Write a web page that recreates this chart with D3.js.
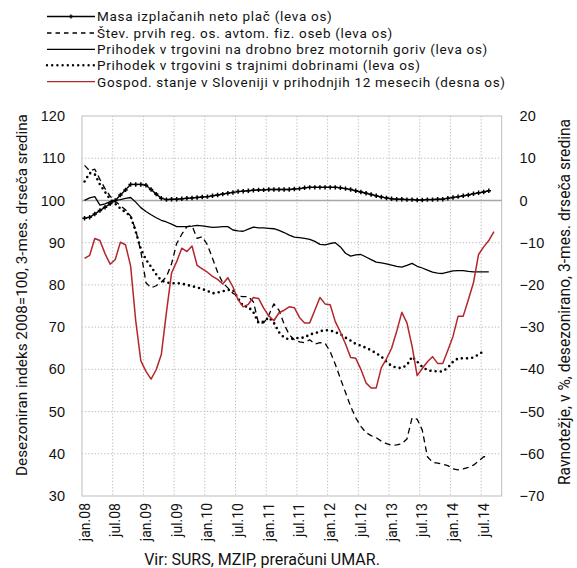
<!DOCTYPE html>
<html>
<head>
<meta charset="utf-8">
<script src="https://cdn.jsdelivr.net/npm/d3@7"></script>
<style>
  body{margin:0;background:#fff;}
  svg{display:block;font-family:Roboto, "Open Sans", sans-serif;}
</style>
</head>
<body>
<div id="chart"></div>
<script>
// categories: jan.08 .. oct.14
const years = ["08","09","10","11","12","13","14"];
const monthNames = ["jan","feb","mar","apr","maj","jun","jul","avg","sep","okt","nov","dec"];
const tickLabels = ["jan.08","jul.08","jan.09","jul.09","jan.10","jul.10","jan.11","jul.11","jan.12","jul.12","jan.13","jul.13","jan.14","jul.14"];
const leftTicks = [30,40,50,60,70,80,90,100,110,120];
const rightTicks = [-70,-60,-50,-40,-30,-20,-10,0,10,20];

const seriesNames = [
  "Masa izplačanih neto plač (leva os)",
  "Štev. prvih reg. os. avtom. fiz. oseb (leva os)",
  "Prihodek v trgovini na drobno brez motornih goriv (leva os)",
  "Prihodek v trgovini s trajnimi dobrinami (leva os)",
  "Gospod. stanje v Sloveniji v prihodnjih 12 mesecih (desna os)"
];

const masa = [95.8,96.0,96.8,97.6,98.4,99.2,100.0,101.3,102.5,103.8,103.8,103.8,103.6,102.6,101.5,100.5,100.2,100.3,100.3,100.4,100.5,100.6,100.7,100.8,100.9,101.1,101.3,101.5,101.7,101.9,102.1,102.2,102.3,102.4,102.5,102.5,102.6,102.6,102.6,102.6,102.6,102.7,102.8,103.0,103.1,103.1,103.1,103.1,103.1,103.1,103.0,102.8,102.6,102.3,102.0,101.7,101.4,101.1,100.8,100.6,100.4,100.3,100.3,100.2,100.2,100.1,100.1,100.2,100.2,100.3,100.3,100.5,100.7,100.9,101.1,101.3,101.6,101.8,102.0,102.3];
const registracije = [108.3,107.0,107.4,105.0,102.8,101.0,99.8,98.8,97.8,96.3,93.0,87.9,80.5,79.3,79.8,80.7,81.9,85.0,89.8,92.0,93.8,94.0,91.0,91.4,89.5,86.3,83.0,80.5,79.3,78.0,77.4,77.2,77.2,76.0,70.9,71.0,72.8,75.5,74.0,70.7,68.2,67.0,66.5,66.3,67.0,66.0,66.3,66.2,64.2,61.2,57.8,54.5,51.2,48.5,46.5,45.0,44.3,43.8,43.0,42.4,42.0,42.1,42.4,43.5,48.5,48.2,45.6,39.3,38.0,37.8,37.5,37.2,36.4,36.2,36.4,36.8,37.3,38.3,39.3,39.3];
const trgovina = [100.0,100.6,100.9,98.9,99.2,99.7,100.0,100.2,100.5,100.7,99.6,98.3,97.4,96.6,95.9,95.3,94.9,94.4,93.8,93.8,93.8,93.9,94.1,94.0,93.8,93.6,93.7,93.8,93.8,93.0,92.8,92.7,93.2,93.7,93.5,93.5,93.4,93.3,92.9,92.4,91.8,91.3,91.2,91.0,90.8,90.3,89.6,89.5,89.8,90.0,89.0,87.5,86.8,87.1,87.2,86.6,86.0,85.4,85.2,85.0,84.7,84.4,84.2,84.6,85.1,84.4,84.0,83.5,83.0,82.8,82.7,83.0,83.3,83.4,83.4,83.2,83.1,83.1,83.1,83.1];
const trajne = [104.5,106.5,106.2,103.8,102.0,100.3,99.2,98.1,97.2,96.3,92.6,88.5,86.0,84.3,82.5,81.0,80.6,80.4,80.4,80.3,80.0,79.7,79.4,79.0,78.6,78.0,78.2,78.5,78.8,78.8,76.8,75.0,74.8,73.5,71.0,71.3,72.3,71.0,68.8,67.5,67.1,67.3,67.5,67.5,68.3,68.5,69.0,69.3,69.2,68.8,68.3,67.5,66.8,66.0,65.6,65.1,64.5,63.8,63.0,61.8,60.8,60.4,60.3,61.0,63.0,61.8,60.6,59.8,59.6,59.5,59.5,60.4,61.8,62.6,62.6,62.6,62.8,63.5,64.3];
const gospod = [-13.7,-13.0,-9.0,-9.5,-12.6,-15.1,-14.0,-9.9,-10.5,-15.5,-28.5,-38.0,-40.5,-42.3,-40.1,-36.5,-26.5,-17.2,-14.5,-11.3,-12.1,-10.8,-15.4,-16.2,-17.0,-18.0,-18.7,-19.8,-18.3,-20.5,-23.5,-25.2,-24.6,-23.0,-23.2,-25.5,-27.3,-28.5,-26.6,-26.0,-25.2,-25.4,-27.7,-29.0,-29.0,-26.0,-23.0,-24.5,-24.7,-28.7,-31.2,-34.0,-37.2,-37.4,-40.0,-43.2,-44.4,-44.4,-39.6,-37.5,-35.0,-31.0,-26.5,-29.0,-34.5,-41.5,-39.8,-38.2,-37.0,-38.6,-38.6,-35.5,-32.2,-27.4,-27.4,-23.5,-19.5,-12.8,-11.0,-9.5,-7.4];

const months = years.flatMap(y => monthNames.map(m => `${m}.${y}`)).slice(0, 82);

const width = 577, height = 568;
const plot = {left:82, right:501.6, top:116, bottom:496};
const red = "#b3262b";
const gridColor = "#b8b8b8";

const svg = d3.select("#chart").append("svg").attr("width", width).attr("height", height);

const x = d3.scaleBand().domain(months).range([plot.left, plot.right]);
const yL = d3.scaleLinear().domain([30,120]).range([plot.bottom, plot.top]);
const yR = d3.scaleLinear().domain([-70,20]).range([plot.bottom, plot.top]);
const cx = i => x(months[i]) + x.bandwidth()/2;

// grid
const grid = svg.append("g");
grid.selectAll("line.h").data(leftTicks.filter(t => t>30 && t<120 && t!==100)).enter().append("line")
  .attr("x1", plot.left).attr("x2", plot.right).attr("y1", d=>yL(d)).attr("y2", d=>yL(d))
  .attr("stroke", gridColor).attr("stroke-dasharray", "1.2,2");
grid.selectAll("line.v").data(tickLabels.slice(1)).enter().append("line")
  .attr("x1", d=>x(d)).attr("x2", d=>x(d)).attr("y1", plot.top).attr("y2", plot.bottom)
  .attr("stroke", gridColor).attr("stroke-dasharray", "1.2,2");
svg.append("rect").attr("x", plot.left).attr("y", plot.top)
  .attr("width", plot.right-plot.left).attr("height", plot.bottom-plot.top)
  .attr("fill", "none").attr("stroke", "#c8c8c8").attr("stroke-width", 1.2);
svg.append("line").attr("x1", plot.left).attr("x2", plot.right).attr("y1", yR(0)).attr("y2", yR(0))
  .attr("stroke", "#a6a6a6").attr("stroke-width", 1.6);

// axes labels
const textAttr = (sel, size) => sel.attr("font-size", size).attr("fill", "#111");
svg.append("g").attr("transform", `translate(${plot.left-14},0)`)
  .call(d3.axisLeft(yL).tickValues(leftTicks).tickSize(0))
  .call(g => g.select(".domain").remove())
  .call(g => g.selectAll("text").call(textAttr, "14.5px").attr("font-family", null));
svg.append("g").attr("transform", `translate(${plot.right+15},0)`)
  .call(d3.axisRight(yR).tickValues(rightTicks).tickSize(0))
  .call(g => g.select(".domain").remove())
  .call(g => g.selectAll("text").call(textAttr, "14.5px").attr("font-family", null));

svg.append("g").selectAll("text").data(tickLabels).enter().append("text")
  .attr("transform", d => `translate(${x(d)+x.bandwidth()/2+5},${plot.bottom+7}) rotate(-90)`)
  .attr("text-anchor", "end").text(d=>d).call(textAttr, "14px");

svg.append("text").attr("transform", `translate(27,295) rotate(-90)`)
  .attr("text-anchor", "middle").text("Desezoniran indeks 2008=100, 3-mes. drseča sredina").call(textAttr, "15.3px");
svg.append("text").attr("transform", `translate(570,302) rotate(-90)`)
  .attr("text-anchor", "middle").text("Ravnotežje, v %, desezonirano, 3-mes. drseča sredina").call(textAttr, "15.6px");
svg.append("text").attr("x", 262).attr("y", 565).attr("text-anchor", "middle")
  .text("Vir: SURS, MZIP, preračuni UMAR.").call(textAttr, "16px");

// series
const lineL = d3.line().x((d,i)=>cx(i)).y(d=>yL(d));
const lineR = d3.line().x((d,i)=>cx(i)).y(d=>yR(d));
const styles = [
  {data:masa, line:lineL, stroke:"#000", w:1.4, dash:null},
  {data:registracije, line:lineL, stroke:"#000", w:1.3, dash:"6,4"},
  {data:trgovina, line:lineL, stroke:"#000", w:1.3, dash:null},
  {data:trajne, line:lineL, stroke:"#000", w:2.6, dash:"0,5.2", cap:"round"},
  {data:gospod, line:lineR, stroke:red, w:1.5, dash:null}
];
const series = svg.append("g");
styles.forEach(s => {
  series.append("path").attr("d", s.line(s.data)).attr("fill", "none")
    .attr("stroke", s.stroke).attr("stroke-width", s.w)
    .attr("stroke-dasharray", s.dash).attr("stroke-linecap", s.cap || "butt")
    .attr("stroke-linejoin", "round");
});
const cross = d3.symbol().type(d3.symbolCross).size(11);
series.selectAll("path.mark").data(masa).enter().append("path").attr("class", "mark")
  .attr("transform", (d,i)=>`translate(${cx(i)},${yL(d)})`).attr("d", cross).attr("fill", "#000");

// legend
const legend = svg.append("g");
const rowY = [16.5, 33, 49.3, 65.3, 81.7];
styles.forEach((s, i) => {
  legend.append("line").attr("x1", 47).attr("x2", 95).attr("y1", rowY[i]).attr("y2", rowY[i])
    .attr("stroke", s.stroke).attr("stroke-width", i===3 ? 2.4 : 1.3)
    .attr("stroke-dasharray", i===1 ? "4.5,4" : s.dash).attr("stroke-linecap", s.cap || "butt");
  legend.append("text").attr("x", 97).attr("y", rowY[i]+4.8).text(seriesNames[i])
    .attr("letter-spacing", "0.7px").call(textAttr, "13.5px");
});
legend.append("path").attr("transform", `translate(71,${rowY[0]})`).attr("d", d3.symbol().type(d3.symbolCross).size(9)).attr("fill", "#000");
</script>
</body>
</html>
